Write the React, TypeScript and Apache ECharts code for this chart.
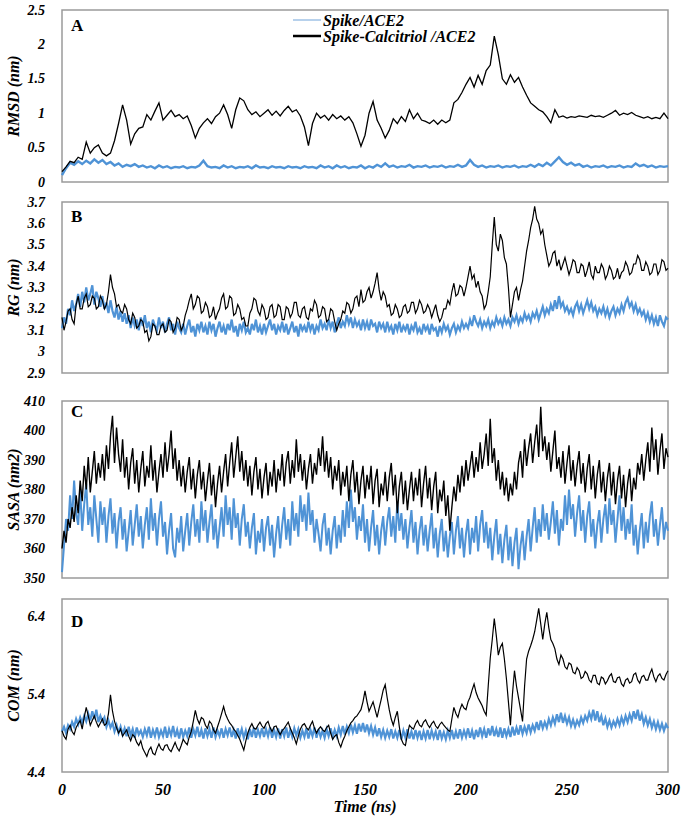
import React, { useEffect, useRef } from "react";
import * as echarts from "echarts";

// ---- Data ----
// Panel A sampled every 2 ns; panels B, C, D every 1 ns (0..300 ns)
const TIME_STEPS_NS = [2, 1, 1, 1];
const X_TICKS = [0, 50, 100, 150, 200, 250, 300];
const SERIES_NAMES = ["Spike/ACE2", "Spike-Calcitriol /ACE2"];
const PANEL_LETTERS = ["A", "B", "C", "D"];
const Y_NAMES = ["RMSD (nm)", "RG (nm)", "SASA (nm2)", "COM (nm)"];

const RMSD_SPIKE = [
  0.1, 0.2, 0.28, 0.25, 0.3, 0.26, 0.31, 0.27, 0.33, 0.28,
  0.32, 0.26, 0.29, 0.24, 0.27, 0.22, 0.25, 0.23, 0.26, 0.22,
  0.24, 0.21, 0.23, 0.2, 0.24, 0.21, 0.23, 0.2, 0.22, 0.21,
  0.23, 0.2, 0.22, 0.21, 0.24, 0.31, 0.23, 0.21, 0.22, 0.2,
  0.24, 0.21, 0.23, 0.2, 0.22, 0.21, 0.23, 0.2, 0.24, 0.21,
  0.22, 0.2, 0.23, 0.21, 0.22, 0.2, 0.23, 0.21, 0.22, 0.2,
  0.23, 0.21, 0.22, 0.2, 0.24, 0.21, 0.23, 0.2, 0.24, 0.21,
  0.23, 0.2, 0.22, 0.21, 0.24, 0.2, 0.23, 0.21, 0.25, 0.22,
  0.27, 0.22, 0.24, 0.21, 0.23, 0.22, 0.25, 0.21, 0.23, 0.22,
  0.24, 0.21, 0.23, 0.22, 0.24, 0.21, 0.23, 0.22, 0.25, 0.22,
  0.24, 0.32, 0.25, 0.22, 0.24, 0.21, 0.23, 0.22, 0.24, 0.21,
  0.23, 0.22, 0.24, 0.21, 0.23, 0.22, 0.25, 0.22, 0.26, 0.23,
  0.28, 0.24, 0.3, 0.36, 0.29, 0.25, 0.28, 0.24, 0.26, 0.22,
  0.24, 0.21, 0.23, 0.22, 0.24, 0.21, 0.23, 0.22, 0.24, 0.21,
  0.23, 0.22, 0.27, 0.23, 0.25, 0.22, 0.24, 0.21, 0.23, 0.22,
  0.23,
];
const RMSD_CALCITRIOL = [
  0.15, 0.22, 0.3, 0.28, 0.36, 0.33, 0.58, 0.42, 0.5, 0.54,
  0.42, 0.38, 0.42, 0.6, 0.85, 1.12, 0.9, 0.55, 0.7, 0.78,
  0.8, 0.98, 0.9, 1.03, 1.15, 0.9, 0.97, 1.04, 0.95, 0.98,
  0.92, 0.96, 0.82, 0.64, 0.78, 0.86, 0.92, 0.85, 0.95, 1.0,
  1.12, 0.98, 0.78, 1.05, 1.22, 1.18, 1.05, 0.98, 1.02, 0.95,
  1.0, 1.05, 0.97, 1.03, 0.96, 1.04, 1.1, 1.02, 1.05, 0.96,
  0.8, 0.53, 0.85, 1.0, 0.93, 0.97, 0.9, 0.98, 0.92, 0.96,
  0.9, 0.95, 0.86, 0.7, 0.52, 0.68, 1.0, 1.17, 0.9, 0.78,
  0.64, 0.75, 0.92, 0.85, 0.95, 0.88, 1.05, 0.92, 1.0, 0.9,
  0.88, 0.85, 0.9, 0.84, 0.9, 0.86, 0.9, 1.15, 1.2, 1.3,
  1.42, 1.52, 1.38, 1.55, 1.42, 1.62, 1.7, 2.12, 1.85, 1.5,
  1.42, 1.56, 1.45, 1.52, 1.38, 1.26, 1.15, 1.1, 1.05, 1.02,
  0.95, 0.86, 1.05, 0.94, 0.96, 0.93, 0.95, 0.94, 0.96, 0.95,
  0.94, 0.97, 0.95, 0.96, 0.94, 0.97, 1.0, 1.04, 0.97, 1.0,
  0.98, 1.01, 0.97, 0.95, 0.93, 0.95, 0.92, 0.94, 0.92, 1.0,
  0.92,
];

const RG_SPIKE = [
  3.11, 3.16, 3.13, 3.2, 3.17, 3.24, 3.19, 3.22, 3.27, 3.21,
  3.28, 3.23, 3.3, 3.24, 3.27, 3.31, 3.22, 3.28, 3.25, 3.21,
  3.26, 3.2, 3.23, 3.18, 3.24, 3.19, 3.16, 3.21, 3.15, 3.19,
  3.14, 3.18, 3.13, 3.17, 3.11, 3.16, 3.12, 3.15, 3.1, 3.16,
  3.12, 3.17, 3.11, 3.14, 3.09, 3.15, 3.12, 3.1, 3.16, 3.11,
  3.14, 3.09, 3.13, 3.16, 3.1, 3.13, 3.08, 3.14, 3.11, 3.09,
  3.13, 3.08, 3.12, 3.15, 3.09, 3.12, 3.07, 3.13, 3.1, 3.14,
  3.09, 3.12, 3.08, 3.14, 3.1, 3.13, 3.07, 3.11, 3.14, 3.09,
  3.12, 3.08, 3.13, 3.1, 3.15, 3.09, 3.12, 3.07, 3.13, 3.1,
  3.14, 3.09, 3.11, 3.08, 3.13, 3.1, 3.15, 3.09, 3.12, 3.08,
  3.13, 3.09, 3.12, 3.15, 3.1, 3.13, 3.08, 3.12, 3.1, 3.14,
  3.09, 3.13, 3.08, 3.11, 3.14, 3.09, 3.12, 3.07, 3.13, 3.1,
  3.12, 3.09, 3.14, 3.1, 3.13, 3.08, 3.12, 3.1, 3.15, 3.11,
  3.13, 3.1, 3.15, 3.11, 3.14, 3.09, 3.13, 3.16, 3.11, 3.14,
  3.12, 3.17, 3.13, 3.16, 3.11, 3.15, 3.12, 3.14, 3.1, 3.15,
  3.11, 3.14, 3.1, 3.15, 3.12, 3.13, 3.09, 3.14, 3.11, 3.13,
  3.09, 3.14, 3.1, 3.12, 3.08, 3.13, 3.1, 3.14, 3.09, 3.12,
  3.1, 3.13, 3.08, 3.12, 3.1, 3.14, 3.09, 3.11, 3.08, 3.13,
  3.1, 3.12, 3.08, 3.13, 3.1, 3.11, 3.07, 3.12, 3.09, 3.13,
  3.1, 3.12, 3.08, 3.11, 3.13, 3.09, 3.12, 3.1, 3.14, 3.11,
  3.13, 3.11, 3.15, 3.12, 3.17, 3.14, 3.12, 3.15, 3.11, 3.14,
  3.12, 3.15, 3.11, 3.14, 3.12, 3.16, 3.13, 3.15, 3.12, 3.16,
  3.13, 3.15, 3.12, 3.16, 3.14, 3.17, 3.13, 3.16, 3.14, 3.18,
  3.15, 3.17, 3.14, 3.18, 3.16, 3.19, 3.15, 3.18, 3.21, 3.17,
  3.2, 3.18, 3.22, 3.19, 3.24, 3.2, 3.26, 3.21, 3.23, 3.19,
  3.21, 3.18, 3.2, 3.17, 3.21, 3.23, 3.19, 3.22, 3.18, 3.21,
  3.24, 3.2, 3.23, 3.19, 3.21, 3.17, 3.2, 3.18, 3.21, 3.17,
  3.2, 3.16, 3.19, 3.21, 3.17, 3.2, 3.18, 3.22, 3.19, 3.23,
  3.25, 3.21, 3.23, 3.19, 3.22, 3.18, 3.2, 3.17, 3.19, 3.15,
  3.18, 3.14, 3.17, 3.13, 3.16, 3.12, 3.17, 3.14, 3.12, 3.16,
  3.15,
];
const RG_CALCITRIOL = [
  3.16, 3.1, 3.14, 3.19, 3.2, 3.15, 3.13, 3.22, 3.26, 3.2,
  3.2, 3.25, 3.27, 3.21, 3.22, 3.26, 3.25, 3.2, 3.21, 3.26,
  3.24, 3.2, 3.22, 3.28, 3.36, 3.3, 3.27, 3.21, 3.22, 3.19,
  3.18, 3.22, 3.2, 3.15, 3.13, 3.18, 3.16, 3.11, 3.12, 3.15,
  3.14, 3.09, 3.1, 3.05, 3.07, 3.13, 3.12, 3.08, 3.08, 3.12,
  3.13, 3.09, 3.1, 3.15, 3.14, 3.09, 3.11, 3.16, 3.15, 3.1,
  3.12, 3.17, 3.2, 3.24, 3.27, 3.2, 3.22, 3.26, 3.25, 3.18,
  3.19, 3.23, 3.21, 3.16, 3.17, 3.21, 3.15, 3.18, 3.2, 3.25,
  3.27, 3.2, 3.21, 3.26, 3.25, 3.17, 3.18, 3.22, 3.2, 3.15,
  3.16, 3.12, 3.12, 3.18, 3.2, 3.25, 3.24, 3.19, 3.17, 3.22,
  3.2, 3.15, 3.16, 3.21, 3.22, 3.16, 3.17, 3.22, 3.21, 3.15,
  3.15, 3.21, 3.2, 3.16, 3.18, 3.23, 3.23, 3.17, 3.16, 3.2,
  3.21, 3.16, 3.15, 3.2, 3.19, 3.24, 3.22, 3.16, 3.17, 3.21,
  3.2, 3.14, 3.15, 3.2, 3.19, 3.14, 3.1, 3.13, 3.15, 3.19,
  3.18, 3.23, 3.22, 3.18, 3.2, 3.25, 3.26, 3.21, 3.29, 3.23,
  3.24, 3.28, 3.3, 3.25, 3.28, 3.32, 3.37, 3.29, 3.24, 3.28,
  3.26, 3.21, 3.22, 3.17, 3.18, 3.22, 3.2, 3.16, 3.17, 3.21,
  3.22, 3.18, 3.19, 3.23, 3.23, 3.18, 3.2, 3.24, 3.22, 3.18,
  3.19, 3.22, 3.2, 3.16, 3.19, 3.22, 3.17, 3.14, 3.16, 3.2,
  3.2, 3.24, 3.22, 3.28, 3.32, 3.26, 3.27, 3.31, 3.3, 3.26,
  3.3, 3.35, 3.4, 3.34, 3.36, 3.3, 3.33, 3.28, 3.26, 3.2,
  3.22, 3.28, 3.35, 3.5, 3.63, 3.5, 3.47, 3.55, 3.52, 3.44,
  3.41, 3.3, 3.16, 3.22, 3.28, 3.3, 3.24, 3.29, 3.33, 3.4,
  3.47, 3.52, 3.58, 3.62, 3.68, 3.62, 3.6, 3.55, 3.57, 3.5,
  3.45, 3.4, 3.42, 3.46, 3.47, 3.4, 3.43, 3.38, 3.41, 3.44,
  3.4, 3.36, 3.39, 3.43, 3.42, 3.37, 3.37, 3.41, 3.4, 3.35,
  3.38, 3.42, 3.36, 3.34, 3.4, 3.37, 3.37, 3.41, 3.39, 3.34,
  3.36, 3.4, 3.38, 3.34, 3.35, 3.39, 3.34, 3.37, 3.38, 3.42,
  3.4, 3.36, 3.37, 3.41, 3.41, 3.45, 3.43, 3.38, 3.38, 3.42,
  3.4, 3.36, 3.37, 3.41, 3.41, 3.36, 3.38, 3.43, 3.42, 3.38,
  3.39,
];

const SASA_SPIKE = [
  352, 361, 370, 366, 378, 370, 383, 372, 368, 380,
  366, 375, 382, 368, 374, 364, 378, 370, 362, 376,
  368, 374, 362, 371, 377, 365, 372, 360, 369, 374,
  363, 370, 359, 366, 373, 361, 368, 375, 364, 371,
  360, 368, 374, 363, 377, 366, 372, 361, 370, 376,
  364, 369, 358, 366, 372, 360, 357, 367, 362, 371,
  359, 366, 372, 361, 369, 375, 364, 370, 362, 376,
  366, 373, 362, 369, 375, 363, 370, 360, 367, 374,
  364, 378, 368, 374, 363, 377, 367, 372, 361, 370,
  375, 364, 369, 360, 367, 372, 358, 366, 362, 370,
  359, 367, 371, 361, 368, 357, 365, 371, 360, 368,
  374, 363, 370, 361, 376, 366, 372, 364, 378, 369,
  375, 366, 379, 368, 373, 362, 370, 365, 359, 368,
  372, 361, 367, 358, 366, 371, 360, 368, 362, 373,
  364, 376, 367, 380, 369, 374, 363, 371, 366, 375,
  362, 370, 359, 367, 373, 361, 368, 358, 366, 371,
  361, 369, 374, 364, 371, 362, 376, 366, 372, 363,
  370, 360, 367, 373, 362, 369, 358, 366, 371, 361,
  368, 359, 366, 372, 360, 367, 357, 365, 370, 359,
  366, 357, 364, 369, 358, 366, 371, 360, 367, 357,
  365, 370, 358, 367, 362, 371, 359, 368, 373, 362,
  369, 360, 367, 356, 364, 370, 358, 365, 355, 363,
  368, 356, 364, 354, 362, 367, 353, 361, 366, 356,
  364, 370, 359, 367, 374, 362, 370, 364, 375, 366,
  372, 363, 369, 376, 365, 373, 361, 370, 366, 378,
  368, 380, 370, 375, 364, 372, 378, 366, 373, 362,
  371, 376, 364, 370, 360, 368, 373, 362, 370, 375,
  365, 377, 368, 373, 362, 370, 378, 366, 374, 363,
  370, 365, 375, 361, 368, 358, 366, 372, 360, 369,
  362, 371, 376, 364, 370, 361, 368, 374, 363, 369,
  366,
];
const SASA_CALCITRIOL = [
  360, 366, 362, 370, 367, 374, 369, 378, 372, 383,
  376, 388, 380, 391, 379, 386, 393, 382, 389, 384,
  392, 383, 395, 387, 398, 405, 389, 401, 392, 386,
  397, 384, 391, 380, 389, 394, 382, 390, 379, 387,
  393, 381, 388, 384, 395, 383, 390, 379, 386, 392,
  384, 396, 386, 392, 400, 387, 394, 383, 390, 381,
  388, 379, 386, 391, 380, 387, 377, 385, 390, 380,
  386, 376, 383, 389, 378, 385, 374, 382, 388, 379,
  386, 392, 381, 389, 396, 384, 391, 398, 386, 393,
  383, 390, 381, 388, 378, 386, 391, 380, 387, 377,
  384, 389, 378, 386, 381, 390, 379, 387, 383, 392,
  381, 389, 393, 382, 390, 384, 397, 386, 392, 383,
  390, 380, 387, 392, 382, 389, 385, 394, 388, 398,
  386, 393, 384, 391, 380, 388, 383, 390, 378, 386,
  381, 388, 376, 385, 390, 379, 386, 375, 383, 388,
  377, 385, 380, 388, 375, 383, 387, 374, 382, 378,
  386, 376, 384, 389, 378, 385, 372, 381, 386, 375,
  383, 373, 380, 386, 376, 384, 378, 387, 374, 382,
  388, 377, 384, 373, 381, 386, 372, 380, 376, 383,
  371, 378, 366, 374, 381, 376, 385, 379, 388, 381,
  390, 383, 388, 393, 384, 391, 386, 396, 387, 392,
  399, 388, 404, 389, 394, 383, 390, 380, 386, 378,
  384, 376, 382, 378, 386, 380, 389, 393, 384, 397,
  388, 394, 399, 389, 396, 402, 391, 408, 393, 398,
  390, 396, 386, 393, 400, 387, 391, 384, 393, 382,
  389, 395, 383, 390, 381, 388, 393, 382, 389, 379,
  387, 392, 380, 388, 377, 385, 390, 379, 386, 376,
  384, 389, 378, 386, 375, 383, 388, 377, 385, 374,
  382, 387, 376, 384, 380, 389, 385, 392, 383, 390,
  396, 386, 401, 390, 397, 385, 393, 399, 387, 394,
  391,
];

const COM_SPIKE = [
  4.92, 4.98, 4.9, 5.0, 4.95, 5.04, 4.98, 5.08, 5.01, 5.1,
  5.03, 5.12, 5.05, 5.15, 5.06, 5.18, 5.08, 5.2, 5.04, 5.12,
  5.05, 5.1, 4.98, 5.06, 4.97, 5.03, 4.92, 5.0, 4.9, 4.98,
  4.88, 4.96, 4.86, 4.98, 4.87, 4.95, 4.84, 4.97, 4.88, 4.93,
  4.85, 4.95, 4.87, 4.98, 4.84, 4.94, 4.86, 4.97, 4.85, 4.93,
  4.86, 4.98, 4.84, 4.95, 4.87, 4.99, 4.85, 4.94, 4.83, 4.96,
  4.85, 4.93, 4.86, 4.97, 4.84, 4.95, 4.87, 4.98, 4.85, 4.94,
  4.83, 4.96, 4.86, 4.95, 4.84, 4.97, 4.85, 4.93, 4.86, 4.96,
  4.84, 4.95, 4.87, 4.97, 4.85, 4.94, 4.83, 4.96, 4.86, 4.95,
  4.84, 4.93, 4.82, 4.95, 4.85, 4.97, 4.84, 4.94, 4.86, 4.96,
  4.85, 4.95, 4.86, 4.97, 4.84, 4.94, 4.85, 4.96, 4.83, 4.95,
  4.86, 4.97, 4.84, 4.94, 4.85, 4.96, 4.87, 4.95, 4.84, 4.93,
  4.85, 4.96, 4.83, 4.94, 4.86, 4.97, 4.84, 4.95, 4.85, 4.93,
  4.84, 4.95, 4.86, 4.96, 4.85, 4.94, 4.86, 4.97, 4.88, 4.99,
  4.88, 4.98, 4.9, 5.01, 4.91, 5.0, 4.89, 5.02, 4.92, 5.03,
  4.91, 5.01, 4.9, 4.99, 4.88, 4.97, 4.86, 4.96, 4.85, 4.94,
  4.84, 4.93, 4.85, 4.95, 4.83, 4.92, 4.84, 4.94, 4.82, 4.93,
  4.84, 4.95, 4.83, 4.92, 4.82, 4.94, 4.84, 4.93, 4.81, 4.92,
  4.83, 4.94, 4.82, 4.93, 4.84, 4.92, 4.81, 4.94, 4.83, 4.91,
  4.82, 4.93, 4.84, 4.94, 4.82, 4.92, 4.83, 4.95, 4.84, 4.93,
  4.85, 4.96, 4.84, 4.93, 4.82, 4.94, 4.85, 4.97, 4.86, 4.95,
  4.84, 4.96, 4.87, 4.99, 4.86, 4.95, 4.85, 4.97, 4.84, 4.96,
  4.86, 4.95, 4.85, 4.98, 4.87, 4.97, 4.88, 5.0, 4.89, 4.98,
  4.9, 5.01, 4.91, 5.0, 4.93, 5.04, 4.94, 5.06, 4.96, 5.04,
  4.97, 5.08, 5.0, 5.1, 5.02, 5.14, 5.04, 5.16, 5.03, 5.12,
  5.02, 5.1, 4.99, 5.07, 4.98, 5.06, 5.0, 5.1, 5.03, 5.12,
  5.06, 5.16, 5.08, 5.2, 5.06, 5.18, 5.04, 5.12, 5.0, 5.09,
  4.98, 5.06, 4.97, 5.05, 4.99, 5.08, 5.0, 5.1, 5.02, 5.12,
  5.04, 5.14, 5.06, 5.18, 5.08, 5.2, 5.06, 5.14, 5.02, 5.1,
  5.0, 5.08, 4.97, 5.05, 4.95, 5.04, 4.94, 5.02, 4.93, 5.01,
  4.96,
];
const COM_CALCITRIOL = [
  4.93, 4.86, 4.82, 4.95, 5.0, 4.92, 4.88, 4.97, 5.02, 5.06,
  4.95, 5.1, 5.23, 5.12, 5.0, 5.06, 5.12, 5.04, 4.98, 5.03,
  5.08, 5.0, 5.02, 5.15, 5.39, 5.18, 5.05, 4.97, 4.9, 4.95,
  4.86, 4.9, 4.94, 4.86, 4.8, 4.88, 4.85, 4.78, 4.74, 4.8,
  4.7, 4.65, 4.6, 4.68, 4.72, 4.64, 4.62, 4.7, 4.76, 4.7,
  4.68, 4.74, 4.75, 4.69, 4.66, 4.72, 4.78, 4.71, 4.67, 4.74,
  4.82, 4.78, 4.75, 4.85, 4.92, 5.05, 5.19, 5.08, 5.02, 5.1,
  5.08, 5.0, 4.96, 5.05, 5.02, 4.94, 4.9, 4.98, 5.06, 5.15,
  5.24, 5.14, 5.08, 5.03, 5.0, 4.95, 4.92, 4.87, 4.82, 4.75,
  4.68, 4.8, 4.9, 4.97, 5.02, 4.96, 4.95, 5.0, 5.04, 4.99,
  4.96, 5.02, 5.05, 4.97, 4.92, 4.98, 4.99, 4.93, 4.88, 4.93,
  4.96, 5.0, 5.04, 4.96, 4.9, 4.84, 4.76, 4.86, 4.95, 5.0,
  5.02, 4.97, 4.94, 5.0, 5.05, 4.96, 4.9, 4.95, 4.98, 4.94,
  4.92, 4.97, 5.0, 4.9, 4.82, 4.86, 4.88, 4.78, 4.72, 4.8,
  4.86, 4.93, 4.98, 5.03, 5.06, 5.1, 5.12, 5.16, 5.2, 5.3,
  5.44, 5.3, 5.18, 5.24, 5.3, 5.2, 5.1, 5.22, 5.33, 5.45,
  5.52, 5.35, 5.2, 5.08, 5.0, 5.1, 5.18, 4.98, 4.82, 4.76,
  4.74, 4.88, 5.0, 4.97, 4.95, 5.02, 5.06, 5.0, 4.98, 5.04,
  5.07, 5.01, 4.97, 5.02, 5.05, 4.99, 4.96, 5.01, 5.04, 5.0,
  4.97, 4.94, 4.92, 5.08, 5.23, 5.15, 5.1, 5.2, 5.27, 5.22,
  5.2, 5.3, 5.36, 5.45, 5.53, 5.42, 5.35, 5.3, 5.25, 5.18,
  5.13, 5.5, 5.86, 6.1, 6.37, 6.15, 5.9, 6.0, 6.05, 5.85,
  5.6, 5.3, 5.0, 5.4, 5.7, 5.5, 5.35, 5.2, 5.05, 5.5,
  5.85, 5.95, 6.02, 6.1, 6.2, 6.35, 6.5, 6.3, 6.1, 6.3,
  6.45, 6.25, 6.1, 6.05, 5.98, 5.85, 5.78, 5.9, 5.85, 5.75,
  5.72, 5.8, 5.78, 5.68, 5.66, 5.74, 5.7, 5.6, 5.62, 5.69,
  5.66, 5.58, 5.55, 5.64, 5.64, 5.54, 5.52, 5.62, 5.6, 5.53,
  5.57, 5.63, 5.66, 5.56, 5.55, 5.61, 5.62, 5.53, 5.5, 5.58,
  5.6, 5.54, 5.56, 5.65, 5.67, 5.58, 5.54, 5.62, 5.64, 5.58,
  5.58, 5.66, 5.72, 5.62, 5.56, 5.63, 5.66, 5.6, 5.58, 5.65,
  5.7,
];

// y-axis settings per panel: [min, max, interval]
const Y_RANGES = [
  [0, 2.5, 0.5],
  [2.9, 3.7, 0.1],
  [350, 410, 10],
  [4.4, 6.62, 1],
];

const PANEL_DATA = [
  [RMSD_SPIKE, RMSD_CALCITRIOL],
  [RG_SPIKE, RG_CALCITRIOL],
  [SASA_SPIKE, SASA_CALCITRIOL],
  [COM_SPIKE, COM_CALCITRIOL],
];

const GRIDS = [
  { top: 10, height: 172 },
  { top: 202, height: 171 },
  { top: 401, height: 177 },
  { top: 599, height: 173 },
];
const LETTER_TOPS = [17, 208, 403, 613];
const BLUE_WIDTHS = [2.4, 2.2, 2.0, 2.2];
const BLACK_WIDTHS = [1.3, 1.2, 1.4, 1.2];

const FONT = "Liberation Serif";
const BLUE = "#4f93d6";
const BLACK = "#000000";

export default function App() {
  const ref = useRef<HTMLDivElement>(null);

  useEffect(() => {
    if (!ref.current) return;
    const chart = echarts.init(ref.current, undefined, { renderer: "svg" });

    const grid = GRIDS.map((g) => ({
      left: 62,
      right: 17,
      top: g.top,
      height: g.height,
      show: true,
      borderColor: "#9a9a9a",
      borderWidth: 1.5,
      backgroundColor: "transparent",
      containLabel: false,
      outerBoundsMode: "none",
    }));

    const boldItalic = {
      fontFamily: FONT,
      fontStyle: "italic",
      fontWeight: "bold",
      color: "#000",
    };

    const xAxis = GRIDS.map((_, i) => ({
      type: "value",
      gridIndex: i,
      min: X_TICKS[0],
      max: X_TICKS[X_TICKS.length - 1],
      interval: X_TICKS[1] - X_TICKS[0],
      axisLine: { show: false },
      axisTick: { show: false },
      splitLine: { show: false },
      axisLabel: { show: i === 3, margin: 9, fontSize: 16, ...boldItalic },
      name: i === 3 ? "Time (ns)" : "",
      nameLocation: "middle",
      nameGap: 26,
      nameMoveOverlap: false,
      nameTextStyle: { fontSize: 16, ...boldItalic },
    }));

    const yAxis = GRIDS.map((_, i) => ({
      type: "value",
      gridIndex: i,
      min: Y_RANGES[i][0],
      max: Y_RANGES[i][1],
      interval: Y_RANGES[i][2],
      axisLine: { show: false },
      axisTick: { show: false },
      splitLine: { show: false },
      axisLabel: { margin: 17, showMaxLabel: i !== 3, fontSize: 14, ...boldItalic },
      name: Y_NAMES[i],
      nameLocation: "middle",
      nameGap: 41,
      nameMoveOverlap: false,
      nameTextStyle: { fontSize: 16, ...boldItalic },
    }));

    const series: any[] = [];
    PANEL_DATA.forEach((pair, i) => {
      pair.forEach((vals, k) => {
        series.push({
          type: "line",
          name: SERIES_NAMES[k],
          xAxisIndex: i,
          yAxisIndex: i,
          showSymbol: false,
          symbol: "none",
          data: vals.map((v, j) => [j * TIME_STEPS_NS[i], v]),
          lineStyle: {
            color: k === 0 ? BLUE : BLACK,
            width: k === 0 ? BLUE_WIDTHS[i] : BLACK_WIDTHS[i],
            join: "miter",
          },
          itemStyle: { color: k === 0 ? BLUE : BLACK },
          z: k === 0 ? 2 : 3,
        });
      });
    });

    const letters = PANEL_LETTERS.map((l, i) => ({
      type: "text",
      left: 71,
      top: LETTER_TOPS[i],
      style: { text: l, font: `bold 17px ${FONT}`, fill: "#000" },
    }));

    const legendY = [20, 36];
    const legendColors = ["#9fc2e6", "#000"];
    const legendWidths = [1.5, 2.5];
    const legend: any[] = [];
    SERIES_NAMES.forEach((name, k) => {
      legend.push({
        type: "line",
        shape: { x1: 293, y1: legendY[k], x2: 321, y2: legendY[k] },
        style: { stroke: legendColors[k], lineWidth: legendWidths[k] },
      });
      legend.push({
        type: "text",
        x: 323,
        y: legendY[k],
        style: {
          text: name,
          font: `italic bold 16px ${FONT}`,
          fill: "#000",
          verticalAlign: "middle",
        },
      });
    });

    chart.setOption({
      animation: false,
      backgroundColor: "#ffffff",
      grid,
      xAxis,
      yAxis,
      series,
      graphic: [...letters, ...legend],
    });

    return () => chart.dispose();
  }, []);

  return (
    <div
      ref={ref}
      style={{
        position: "fixed",
        left: 0,
        top: 0,
        width: 685,
        height: 816,
        background: "#fff",
      }}
    />
  );
}
